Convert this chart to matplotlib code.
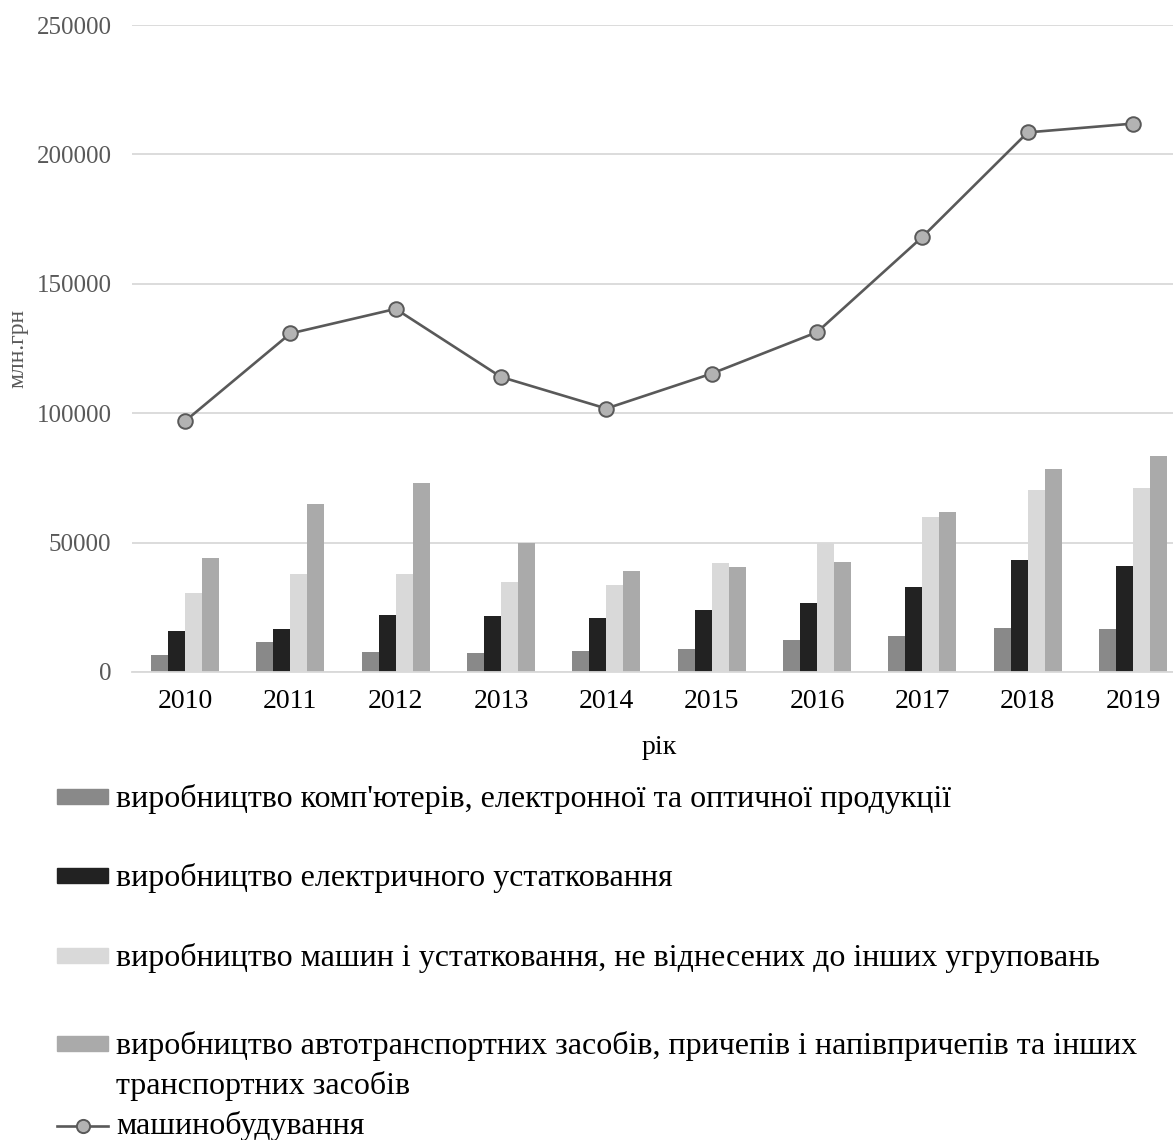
import matplotlib
matplotlib.use("Agg")
import matplotlib.pyplot as plt
import numpy as np
from matplotlib.patches import Rectangle
from matplotlib.lines import Line2D

plt.rcParams['font.family'] = ['Liberation Serif', 'DejaVu Serif']

years = ['2010', '2011', '2012', '2013', '2014', '2015', '2016', '2017', '2018', '2019']

computers = [6700, 11500, 7900, 7500, 8000, 8800, 12300, 13900, 17000, 16800]
electrical = [15800, 16700, 22100, 21800, 21000, 24000, 26700, 32900, 43300, 40900]
machinery = [30600, 37700, 37700, 34800, 33500, 42000, 50000, 59800, 70300, 71200]
vehicles = [44000, 65000, 73000, 49700, 39200, 40400, 42400, 61800, 78400, 83400]
engineering = [96900, 130800, 140300, 114000, 101800, 115300, 131300, 168100, 208500, 211900]

bar_labels = [
    "виробництво комп'ютерів, електронної та оптичної продукції",
    "виробництво електричного устатковання",
    "виробництво машин і устатковання, не віднесених до інших угруповань",
    "виробництво автотранспортних засобів, причепів і напівпричепів та інших\nтранспортних засобів",
]
line_label = "машинобудування"
bar_colors = ['#898989', '#222222', '#d9d9d9', '#aaaaaa']

W, H = 1173, 1140
fig = plt.figure(figsize=(W / 100, H / 100), dpi=100)

ax_left, ax_right, ax_top, ax_bottom = 132.3, 1185.7, 25.0, 672.0
ax = fig.add_axes([ax_left / W, 1 - ax_bottom / H,
                   (ax_right - ax_left) / W, (ax_bottom - ax_top) / H])

x = np.arange(len(years))
bw = 0.1615
series = [computers, electrical, machinery, vehicles]
for i, (vals, col) in enumerate(zip(series, bar_colors)):
    ax.bar(x + (i - 1.5) * bw, vals, width=bw, color=col, zorder=2)

line_style = dict(color='#595959', lw=1.9, marker='o', markersize=10.5,
                  markerfacecolor='#b3b3b3', markeredgecolor='#595959', markeredgewidth=1.4)
ax.plot(x, engineering, zorder=3, clip_on=False, **line_style)

ax.set_xlim(-0.5, len(years) - 0.5)
ax.set_ylim(0, 250000)
ax.set_yticks(np.arange(0, 250001, 50000))
ax.yaxis.grid(True, color='#d9d9d9', lw=1.3, zorder=0)
ax.set_axisbelow(True)
for side in ['top', 'right', 'left']:
    ax.spines[side].set_visible(False)
ax.spines['bottom'].set_color('#d9d9d9')
ax.spines['bottom'].set_linewidth(1.3)

ax.set_xticks(x)
ax.set_xticklabels(years, fontsize=20, color='black')
ax.tick_params(axis='x', length=0, pad=12)
ax.tick_params(axis='y', length=0, pad=15, labelsize=18, labelcolor='#595959')

fig.text(659 / W, 1 - 748 / H, 'рік', ha='center', va='center', fontsize=20, color='black')
fig.text(18 / W, 1 - 348 / H, 'млн.грн', ha='center', va='center', rotation=90,
         fontsize=17, color='#595959')

# legend, drawn in figure pixel coordinates
leg_fs = 23
line_gap = 40
centers = [796, 875, 955, 1043]
for c, col, lab in zip(centers, bar_colors, bar_labels):
    fig.patches.append(Rectangle((57 / W, 1 - (c + 7.5) / H), 51 / W, 15 / H,
                                 transform=fig.transFigure, color=col, figure=fig))
    for k, part in enumerate(lab.split('\n')):
        fig.text(116 / W, 1 - (c + 11 + k * line_gap) / H, part, ha='left',
                 va='baseline', fontsize=leg_fs, color='black')

lc = 1126
fig.add_artist(Line2D([57 / W, 108 / W], [1 - lc / H, 1 - lc / H], transform=fig.transFigure,
                      color='#595959', lw=1.9))
fig.add_artist(Line2D([83 / W], [1 - lc / H], transform=fig.transFigure, color='#595959',
                      lw=0, marker='o', markersize=9.5, markerfacecolor='#b3b3b3',
                      markeredgecolor='#595959', markeredgewidth=1.4))
fig.text(116 / W, 1 - (lc + 8) / H, line_label, ha='left', va='baseline',
         fontsize=leg_fs, color='black')

fig.savefig('out.png', dpi=100)
